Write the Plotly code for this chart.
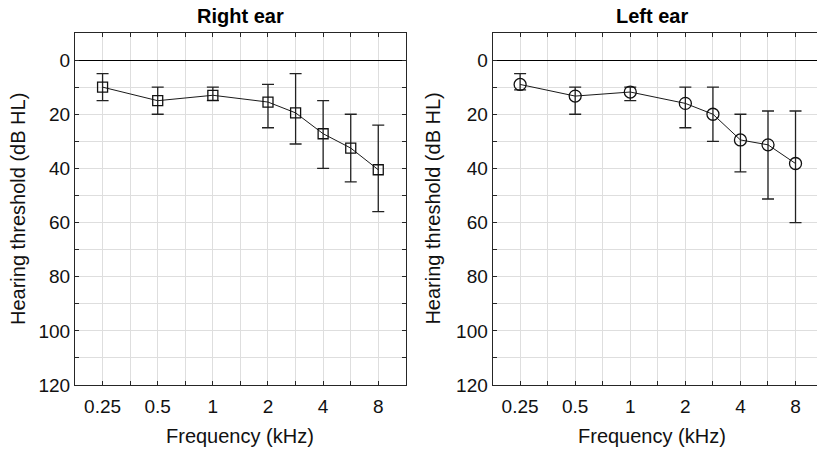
import math
import plotly.graph_objects as go

# ---- data (kHz positions as plotted, dB HL) ----
freq_khz = [0.25, 0.5, 1, 2, 2.83, 4, 5.66, 8]

right_mean = [10, 15, 13, 15.5, 19.5, 27.2, 32.5, 40.5]
right_low = [5, 10, 10, 9, 5, 15, 20, 24]      # upper end of bar (smaller dB)
right_high = [15, 20, 15, 25, 31, 40, 45, 56]

left_mean = [9, 13.3, 11.8, 16, 20, 29.5, 31.3, 38.2]
left_low = [5, 10, 10, 10, 10, 20, 18.8, 18.8]
left_high = [11, 20, 15, 25, 30, 41.3, 51.3, 60]

tick_labels = ["0.25", "0.5", "1", "2", "4", "8"]
y_labels = ["0", "20", "40", "60", "80", "100", "120"]

FONT = "Liberation Sans, Arial, sans-serif"
AX = "#262626"
GRID = "#dedede"

fig = go.Figure()

def add_series(mean, low, high, symbol, size, xa, ya):
    plus = [h - m for h, m in zip(high, mean)]
    minus = [m - l for m, l in zip(mean, low)]
    fig.add_trace(go.Scatter(
        x=freq_khz, y=mean, mode="lines+markers",
        line=dict(color="#1a1a1a", width=1),
        marker=dict(symbol=symbol, size=size, color="#111111",
                    line=dict(width=1.3)),
        error_y=dict(type="data", symmetric=False, array=plus, arrayminus=minus,
                     color="#222222", thickness=1.3, width=6),
        xaxis=xa, yaxis=ya, showlegend=False))

add_series(right_mean, right_low, right_high, "square-open", 10, "x", "y")
add_series(left_mean, left_low, left_high, "circle-open", 12, "x2", "y2")

# x ticks at every half-octave, labels at octaves
xt = [2 ** (k / 2) for k in range(-4, 7)]
xtt = []
li = 0
for k in range(-4, 7):
    if k % 2 == 0:
        xtt.append(tick_labels[li]); li += 1
    else:
        xtt.append("")
yt = list(range(-10, 121, 10))
ytt = []
yi = 0
for v in yt:
    if v % 20 == 0 and v >= 0:
        ytt.append(y_labels[yi]); yi += 1
    else:
        ytt.append("")

lo = -2.5 * math.log10(2)
hi_l = 3.5 * math.log10(2)
hi_r = 3.39 * math.log10(2)

common_x = dict(type="log", tickmode="array", tickvals=xt, ticktext=xtt,
                showgrid=True, gridcolor=GRID, gridwidth=1,
                ticks="inside", ticklen=4, tickcolor=AX, tickwidth=1,
                showline=True, linecolor=AX, linewidth=1,
                tickfont=dict(family=FONT, size=19, color="#111"),
                ticklabelstandoff=4,
                zeroline=False)
common_y = dict(range=[120, -10], tickmode="array", tickvals=yt, ticktext=ytt,
                showgrid=True, gridcolor=GRID, gridwidth=1,
                ticks="inside", ticklen=4, tickcolor=AX, tickwidth=1,
                showline=True, linecolor=AX, linewidth=1,
                zeroline=True, zerolinecolor="#000", zerolinewidth=1,
                tickfont=dict(family=FONT, size=19, color="#111"))

L, R = 75.3, 817
W = R - L
d1 = [0, (406 - L) / W]
d2 = [(492.7 - L) / W, 1]

fig.update_layout(
    width=817, height=449,
    margin=dict(l=L, r=0, t=33, b=64),
    paper_bgcolor="white", plot_bgcolor="white",
    xaxis=dict(common_x, domain=d1, range=[lo, hi_l], mirror="ticks", anchor="y"),
    yaxis=dict(common_y, mirror="ticks", anchor="x"),
    xaxis2=dict(common_x, domain=d2, range=[lo, hi_r], mirror="ticks", anchor="y2"),
    yaxis2=dict(common_y, mirror=False, anchor="x2"),
)

ann_font = dict(family=FONT, size=20, color="#111")
for xa, ya, title in [("x", "y", "Right ear"), ("x2", "y2", "Left ear")]:
    cx = 0.5 if xa == "x" else (652 - 492.7) / (817 - 492.7)
    fig.add_annotation(text="<b>" + title + "</b>", xref=xa + " domain", yref=ya + " domain",
                       x=cx, y=1, xanchor="center", yanchor="bottom", yshift=4, showarrow=False,
                       font=dict(family=FONT, size=20, color="#000"))
    fig.add_annotation(text="Frequency (kHz)", xref=xa + " domain", yref=ya + " domain",
                       x=cx, y=0, xanchor="center", yanchor="middle", yshift=-51, showarrow=False,
                       font=ann_font)
    fig.add_annotation(text="Hearing threshold (dB HL)", xref=xa + " domain", yref=ya + " domain",
                       x=0, y=0.5, xanchor="center", yanchor="middle", textangle=-90,
                       xshift=-57 if xa == "x" else -60, showarrow=False, font=ann_font)

fig.write_html("out.html")
